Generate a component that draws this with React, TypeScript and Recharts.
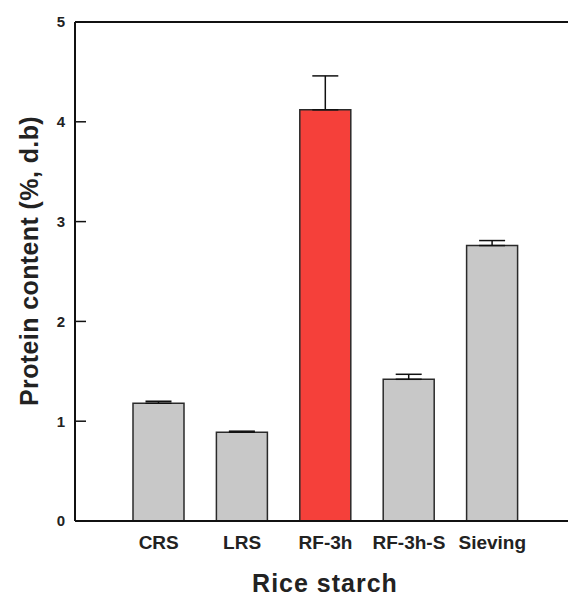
import { BarChart, Bar, XAxis, YAxis, ErrorBar, Cell, ReferenceLine, Label } from "recharts";

// categories and values
const starches = ["CRS", "LRS", "RF-3h", "RF-3h-S", "Sieving"];
const protein = [1.18, 0.89, 4.12, 1.42, 2.76];
const proteinSd = [0.02, 0.01, 0.34, 0.05, 0.05];
const yTicks = [0, 1, 2, 3, 4, 5];
const highlighted = "RF-3h";

const FONT = "'Liberation Sans', Arial, Helvetica, sans-serif";

const data = starches.map((name, i) => ({
    name,
    value: protein[i],
    // only the upper half of the error bar is visible in the figure
    err: [0, proteinSd[i]],
}));

/**
 * Y tick: label on the left, short tick mark pointing into the plot
 */
function YTick({ x, y, payload }: any) {
    return (
        <g>
            <line x1={x + 11} x2={x + 21} y1={y} y2={y} stroke="#111" strokeWidth={1.5} />
            <text
                x={x}
                y={y}
                dy="0.36em"
                textAnchor="end"
                fontFamily={FONT}
                fontWeight="bold"
                fontSize={15}
                fill="#222"
            >
                {payload.value}
            </text>
        </g>
    );
}

function App() {
    return (
        <div style={{ position: "absolute", left: 0, top: 0, background: "#fff" }}>
            <BarChart
                width={568}
                height={596}
                data={data}
                margin={{ top: 22, right: 0, left: 0, bottom: 0 }}
            >
                <XAxis
                    dataKey="name"
                    height={75}
                    padding={{ left: 42, right: 34 }}
                    axisLine={{ stroke: "#111", strokeWidth: 2 }}
                    tickLine={false}
                    tickSize={0}
                    tickMargin={15}
                    interval={0}
                    tick={{ fontFamily: FONT, fontWeight: "bold", fontSize: 19, fill: "#222" }}
                >
                    <Label
                        content={() => (
                            <text
                                x={325}
                                y={592}
                                textAnchor="middle"
                                fontFamily={FONT}
                                fontWeight="bold"
                                fontSize={25}
                                letterSpacing={1}
                                fill="#222"
                            >
                                Rice starch
                            </text>
                        )}
                    />
                </XAxis>
                <YAxis
                    width={75}
                    domain={[0, 5]}
                    ticks={yTicks}
                    axisLine={{ stroke: "#111", strokeWidth: 2 }}
                    tickLine={false}
                    tickSize={0}
                    tickMargin={10}
                    tick={<YTick />}
                >
                    <Label
                        content={() => (
                            <text
                                transform="translate(29,261) rotate(-90)"
                                textAnchor="middle"
                                dominantBaseline="central"
                                fontFamily={FONT}
                                fontWeight="bold"
                                fontSize={25}
                                letterSpacing={0.4}
                                fill="#222"
                            >
                                Protein content (%, d.b)
                            </text>
                        )}
                    />
                </YAxis>
                <ReferenceLine y={5} stroke="#111" strokeWidth={2} />
                <Bar
                    dataKey="value"
                    barSize={51}
                    stroke="#2a2a2a"
                    strokeWidth={1.5}
                    isAnimationActive={false}
                >
                    {data.map((d) => (
                        <Cell key={d.name} fill={d.name === highlighted ? "#f5403a" : "#c8c8c8"} />
                    ))}
                    <ErrorBar
                        dataKey="err"
                        direction="y"
                        width={13}
                        stroke="#111"
                        strokeWidth={1.5}
                        isAnimationActive={false}
                    />
                </Bar>
            </BarChart>
        </div>
    );
}

export default App;
